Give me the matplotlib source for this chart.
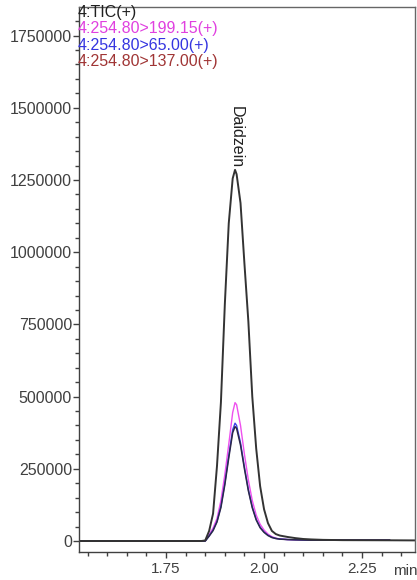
import matplotlib
matplotlib.use("Agg")
import matplotlib.pyplot as plt
from matplotlib.ticker import MultipleLocator, FuncFormatter

plt.rcParams["font.family"] = ["Liberation Sans", "DejaVu Sans"]

# retention time (min) and intensities per channel
times = [1.53, 1.80, 1.84, 1.85, 1.86, 1.87, 1.88, 1.89, 1.90, 1.91, 1.92, 1.926,
         1.93, 1.94, 1.95, 1.96, 1.97, 1.98, 1.99, 2.00, 2.01, 2.02, 2.03, 2.04,
         2.06, 2.08, 2.10, 2.12, 2.15, 2.20, 2.32]

tic = [0, 0, 0, 2000, 35000, 95000, 260000, 480000, 820000, 1100000, 1255000, 1285000,
       1270000, 1170000, 960000, 760000, 500000, 320000, 190000, 110000, 62000, 35000,
       24000, 19000, 14000, 10000, 7000, 5500, 4000, 3000, 2500]
tic_tail_time = [2.40]
tic_tail = [2000]

mrm_199 = [0, 0, 0, 0, 22000, 45000, 78000, 140000, 230000, 335000, 445000, 479000,
           472000, 400000, 300000, 211000, 140000, 90000, 58000, 38000, 24000, 15000,
           10000, 7000, 5000, 4000, 3500, 3000, 3000, 3000, 3000]

mrm_65 = [0, 0, 0, 0, 18000, 38000, 68000, 120000, 200000, 295000, 385000, 408000,
          400000, 340000, 255000, 178000, 118000, 75000, 48000, 31000, 20000, 13000,
          9000, 7000, 5000, 4500, 3500, 3000, 3000, 3000, 3000]

mrm_137 = [0, 0, 0, 0, 17000, 36000, 66000, 116000, 195000, 288000, 375000, 396000,
           390000, 332000, 250000, 174000, 115000, 73000, 46000, 30000, 19000, 12000,
           8500, 6500, 5000, 4000, 3500, 3000, 3000, 3000, 3000]

labels = ["4:TIC(+)", "4:254.80>199.15(+)", "4:254.80>65.00(+)", "4:254.80>137.00(+)"]
label_colors = ["#202020", "#e040e0", "#3535e0", "#a03535"]

fig = plt.figure(figsize=(4.17, 5.8), dpi=100)
ax = fig.add_axes([0.1894, 0.0483, 0.8058, 0.9397])

ax.plot(times, mrm_199, color="#ee50ee", lw=1.0)
ax.plot(times, mrm_65, color="#4040e8", lw=1.0)
ax.plot(times, mrm_137, color="#2c2848", lw=1.1)
ax.plot(times + tic_tail_time, tic + tic_tail, color="#333333", lw=1.4)

ax.annotate("Daidzein", xy=(1.926, max(tic)), xytext=(1, 1), textcoords="offset points",
            rotation=270, ha="center", va="bottom", fontsize=11.5, color="#202020")

for i, (txt, c) in enumerate(zip(labels, label_colors)):
    ax.text(-0.003, 0.9905 - i * 0.0302, txt, transform=ax.transAxes, color=c,
            fontsize=11.5, ha="left", va="center")

ax.set_xlim(1.528, 2.385)
ax.set_ylim(-38000, 1849000)

ax.xaxis.set_major_locator(MultipleLocator(0.25))
ax.xaxis.set_minor_locator(MultipleLocator(0.05))
ax.xaxis.set_major_formatter(FuncFormatter(lambda v, p: f"{v:.2f}"))
ax.yaxis.set_major_locator(MultipleLocator(250000))
ax.yaxis.set_minor_locator(MultipleLocator(50000))
ax.yaxis.set_major_formatter(FuncFormatter(lambda v, p: f"{int(round(v))}"))

ax.tick_params(axis="y", which="major", length=4, width=1, pad=1, labelsize=11.5,
               colors="#404040")
ax.tick_params(axis="y", which="minor", length=3, width=1, colors="#404040")
ax.tick_params(axis="x", which="major", length=4, width=1, pad=3, labelsize=11,
               colors="#404040")
ax.tick_params(axis="x", which="minor", length=3, width=1, colors="#404040")

for s in ax.spines.values():
    s.set_color("#404040")
    s.set_linewidth(1.0)
ax.spines["top"].set_color("#666666")
ax.spines["right"].set_color("#666666")

fig.text(393 / 417, 1 - 571 / 580, "min", fontsize=11, color="#404040",
         ha="left", va="center")

fig.savefig("out.png", dpi=100)
